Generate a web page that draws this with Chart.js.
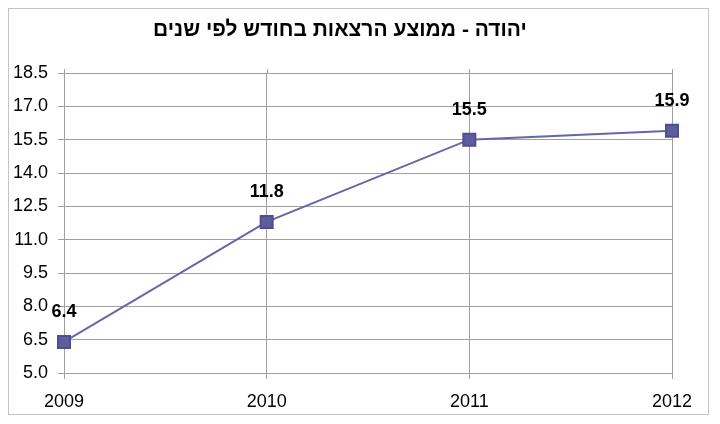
<!DOCTYPE html>
<html>
<head>
<meta charset="utf-8">
<script src="https://cdn.jsdelivr.net/npm/chart.js@4/dist/chart.umd.min.js"></script>
<style>
html,body{margin:0;padding:0;background:#fff;}
#wrap{width:720px;height:424px;position:relative;}
</style>
</head>
<body>
<div id="wrap"><canvas id="c" width="720" height="424"></canvas></div>
<script>
const titleText = 'יהודה - ממוצע הרצאות בחודש לפי שנים';
const years = ['2009', '2010', '2011', '2012'];
const lectures = [6.4, 11.8, 15.5, 15.9];
const yMin = 5.0, yMax = 18.5, yStep = 1.5;

const FONT = '"Liberation Sans", Arial, "DejaVu Sans", sans-serif';

const framePlugin = {
  id: 'frame',
  beforeDraw(chart) {
    const ctx = chart.ctx;
    ctx.save();
    ctx.fillStyle = '#fff';
    ctx.fillRect(0, 0, chart.width, chart.height);
    ctx.strokeStyle = '#c4c4c4';
    ctx.lineWidth = 1;
    ctx.strokeRect(8.5, 8.5, 700, 406);
    ctx.fillStyle = '#000';
    ctx.font = 'bold 21px ' + FONT;
    ctx.textAlign = 'center';
    ctx.textBaseline = 'middle';
    ctx.fillText(titleText, 340, 30);
    ctx.restore();
  },
  afterDraw(chart) {
    const ctx = chart.ctx;
    const xs = chart.scales.x;
    const top = chart.chartArea.top;
    ctx.save();
    ctx.strokeStyle = '#a0a0a0';
    ctx.lineWidth = 1;
    xs.ticks.forEach((t, i) => {
      const x = Math.round(xs.getPixelForTick(i)) + 0.5;
      ctx.beginPath();
      ctx.moveTo(x, top - 4);
      ctx.lineTo(x, top);
      ctx.stroke();
    });
    ctx.restore();
  }
};

const labelPlugin = {
  id: 'pointLabels',
  afterDatasetsDraw(chart) {
    const ctx = chart.ctx;
    const meta = chart.getDatasetMeta(0);
    ctx.save();
    ctx.fillStyle = '#000';
    ctx.font = 'bold 18px ' + FONT;
    ctx.textAlign = 'center';
    ctx.textBaseline = 'middle';
    meta.data.forEach((pt, i) => {
      ctx.fillText(lectures[i].toFixed(1), pt.x, pt.y - 30);
    });
    ctx.restore();
  }
};

new Chart(document.getElementById('c'), {
  type: 'line',
  data: {
    labels: years,
    datasets: [{
      data: lectures,
      borderColor: '#6666a8',
      backgroundColor: '#5e5e9e',
      pointBorderColor: '#4f4f8f',
      borderWidth: 2,
      pointStyle: 'rect',
      pointRadius: 8.5,
      pointHoverRadius: 8.5,
      tension: 0,
      fill: false
    }]
  },
  options: {
    responsive: false,
    animation: false,
    events: [],
    layout: { padding: { top: 73, right: 48, bottom: 9, left: 0 } },
    plugins: { legend: { display: false }, tooltip: { enabled: false }, title: { display: false } },
    scales: {
      x: {
        type: 'category',
        offset: false,
        afterFit(s) { s.height = 42; },
        grid: { color: '#a0a0a0', lineWidth: 1, tickLength: 6, drawTicks: true },
        border: { display: false },
        ticks: { color: '#000', font: { family: FONT, size: 18 }, padding: 12, maxRotation: 0 }
      },
      y: {
        min: yMin,
        max: yMax,
        afterFit(s) { s.width = 64; },
        grid: { color: '#a0a0a0', lineWidth: 1, tickLength: 6 },
        border: { display: false },
        ticks: {
          stepSize: yStep,
          color: '#000',
          font: { family: FONT, size: 18 },
          padding: 10,
          callback: v => Number(v).toFixed(1)
        }
      }
    }
  },
  plugins: [framePlugin, labelPlugin]
});
</script>
</body>
</html>
